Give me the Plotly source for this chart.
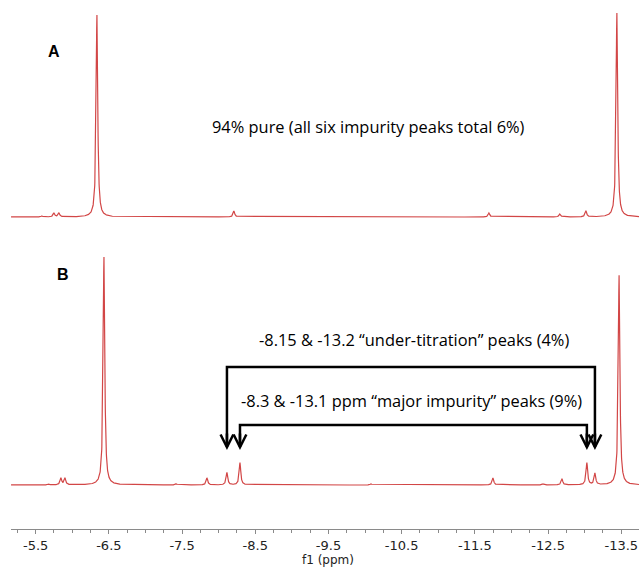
import numpy as np
import plotly.graph_objects as go

# ---- data ----
top_ppm = [-5.586, -5.75, -5.818, -6.337, -8.208, -11.692, -12.662, -13.017, -13.44]
top_height = [0.005, 0.02, 0.02, 1.0, 0.03, 0.02, 0.015, 0.03, 1.01]

bottom_ppm = [-5.68, -5.845, -5.90, -6.433, -7.417, -7.84, -8.113, -8.291,
              -10.08, -11.747, -12.43, -12.69, -13.03, -13.14, -13.47]
bottom_height = [0.005, 0.03, 0.03, 1.0, 0.006, 0.031, 0.055, 0.098,
                 0.005, 0.031, 0.005, 0.027, 0.097, 0.05, 0.92]

under_titration_ppm = [-8.113, -13.14]
major_impurity_ppm = [-8.291, -13.03]

tick_vals = [-5.5, -6.5, -7.5, -8.5, -9.5, -10.5, -11.5, -12.5, -13.5]
tick_text = ["-5.5", "-6.5", "-7.5", "-8.5", "-9.5", "-10.5", "-11.5", "-12.5", "-13.5"]

label_top = "94% pure (all six impurity peaks total 6%)"
label_under = "-8.15 & -13.2 \u201cunder-titration\u201d peaks (4%)"
label_major = "-8.3 & -13.1 ppm \u201cmajor impurity\u201d peaks (9%)"

# ---- rendering of Lorentzian lines from the peak lists ----
GAMMA = 0.013
X_LO, X_HI = -13.742, -5.163


def spectrum(centres, heights):
    x = np.union1d(np.arange(X_LO, X_HI, 0.0015), np.array(centres))
    y = np.zeros_like(x)
    for c, h in zip(centres, heights):
        y += h * GAMMA**2 / (GAMMA**2 + (x - c) ** 2)
    return x, y


xt, yt = spectrum(top_ppm, top_height)
xb, yb = spectrum(bottom_ppm, bottom_height)

RED = "rgb(210,70,70)"
fig = go.Figure()
fig.add_trace(go.Scatter(x=xb, y=yb, mode="lines", line=dict(color=RED, width=1.2),
                         xaxis="x", yaxis="y", hoverinfo="skip"))
fig.add_trace(go.Scatter(x=xt, y=yt, mode="lines", line=dict(color=RED, width=1.2),
                         xaxis="x", yaxis="y2", hoverinfo="skip"))

PLOT_H = 529.0


def py(pix):
    return (PLOT_H - pix) / PLOT_H


# brackets
def bracket(ppms, top_pix, tip_pix):
    a, b = ppms
    y_top = py(top_pix)
    y_end = py(tip_pix - 3)
    fig.add_shape(type="path", xref="x", yref="paper",
                  path=f"M {a},{y_end} L {a},{y_top} L {b},{y_top} L {b},{y_end}",
                  line=dict(color="black", width=2.5))
    for p in ppms:
        fig.add_annotation(x=p, y=py(tip_pix), xref="x", yref="paper", text="",
                           showarrow=True, ax=0, ay=-18, arrowhead=5, arrowsize=1.0,
                           arrowwidth=2.5, arrowcolor="black", standoff=0)


bracket(under_titration_ppm, 367, 450)
bracket(major_impurity_ppm, 425, 450)

TXT = dict(family="'Open Sans', sans-serif", size=16.4, color="black")
C = dict(xanchor="center", yanchor="middle", showarrow=False)
fig.add_annotation(x=0.5685, y=py(127), xref="paper", yref="paper", text=label_top,
                   font=TXT, **C)
fig.add_annotation(x=0.642, y=py(340), xref="paper", yref="paper", text=label_under,
                   font=TXT, **C)
fig.add_annotation(x=0.6385, y=py(400), xref="paper", yref="paper", text=label_major,
                   font=TXT, **C)
LAB = dict(family="Liberation Sans, Arial, sans-serif", size=16, color="black")
fig.add_annotation(x=0.0685, y=py(51), xref="paper", yref="paper", text="<b>A</b>",
                   font=LAB, **C)
fig.add_annotation(x=0.0828, y=py(274), xref="paper", yref="paper", text="<b>B</b>",
                   font=LAB, **C)
fig.add_annotation(x=-9.5, y=0, xref="x", yref="paper", yshift=-31, text="f1 (ppm)",
                   font=dict(family="DejaVu Sans", size=12, color="#222"),
                   xanchor="center", yanchor="middle", showarrow=False)

fig.update_layout(
    width=639, height=567,
    margin=dict(l=11, r=0, t=0, b=38),
    paper_bgcolor="white", plot_bgcolor="white",
    showlegend=False,
    xaxis=dict(range=[X_HI, X_LO], anchor="y", showgrid=False, zeroline=False,
               showline=True, linecolor="#8a8a8a", linewidth=1,
               tickmode="array", tickvals=tick_vals, ticktext=tick_text,
               ticks="outside", ticklen=4, tickcolor="#8a8a8a",
               ticklabelstandoff=0,
               tickfont=dict(family="DejaVu Sans", size=13, color="#222"),
               minor=dict(tickmode="linear", tick0=-5.5, dtick=0.25, ticks="outside",
                          ticklen=3, tickcolor="#8a8a8a", showgrid=False)),
    yaxis=dict(domain=[0, 0.54], range=[-0.193, 1.06], visible=False, fixedrange=True),
    yaxis2=dict(domain=[0.54, 1.0], range=[-0.1304, 1.0743], visible=False, fixedrange=True),
)

fig.write_html("out.html", config={"displayModeBar": False},
               post_script="document.body.style.margin='0';")
